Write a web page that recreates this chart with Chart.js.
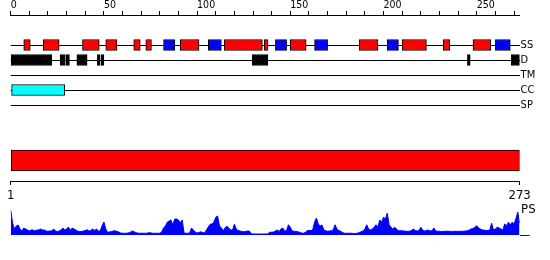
<!DOCTYPE html>
<html lang="en">
<head>
<meta charset="UTF-8">
<title>Protein feature map</title>
<script src="https://cdn.jsdelivr.net/npm/chart.js"></script>
<style>
  body { margin: 0; background: #fff; }
  #wrap { position: relative; width: 550px; height: 260px; }
  canvas { position: absolute; left: 0; }
</style>
</head>
<body>
<div id="wrap">
  <canvas id="tracks" width="550" height="120" style="top:0px"></canvas>
  <canvas id="domain" width="550" height="65" style="top:140px"></canvas>
  <canvas id="ps" width="550" height="40" style="top:200px"></canvas>
</div>
<script>
// Data
const seqLength = 273;
const trackNames = ['SS', 'D', 'TM', 'CC', 'SP'];
const rulerTicks = [0, 10, 20, 30, 40, 50, 60, 70, 80, 90, 100, 110, 120, 130,
                    140, 150, 160, 170, 180, 190, 200, 210, 220, 230, 240, 250, 260, 270];
const rulerLabels = [0, 50, 100, 150, 200, 250];
const lengthTicks = [0, 273];
const lengthLabels = ['1', '273'];

// [start, end] in residues
const helices = [[7, 10.5], [17.5, 26], [38.5, 47.5], [51, 57], [66, 69.5], [72.5, 75.5],
                 [91, 101], [114.5, 135], [136, 138], [150, 158.5], [187, 197], [210, 223],
                 [232, 235.5], [248, 257.5]];
const strands = [[82, 88], [106, 113], [142, 148], [163, 170], [202, 208], [260, 268]];
const disorder = [[0, 22], [26.5, 29], [29.5, 31.5], [35.5, 41], [46.5, 48], [48.5, 50],
                  [129.5, 138], [245, 246.5], [268.5, 273]];
const coiledCoil = [[0.5, 29]];
const transmembrane = [];
const signalPeptide = [];
const domains = [[0, 273]];

// PS score, one value per residue 0..273
const psValues = [
  1.00, 0.48, 0.24, 0.36, 0.40, 0.24, 0.16, 0.28, 0.24, 0.20,
  0.16, 0.20, 0.20, 0.16, 0.20, 0.20, 0.24, 0.20, 0.20, 0.16,
  0.15, 0.16, 0.16, 0.24, 0.16, 0.14, 0.16, 0.20, 0.28, 0.20,
  0.24, 0.32, 0.18, 0.28, 0.24, 0.20, 0.15, 0.14, 0.14, 0.16,
  0.18, 0.21, 0.16, 0.18, 0.24, 0.18, 0.24, 0.16, 0.16, 0.36,
  0.52, 0.24, 0.11, 0.12, 0.14, 0.16, 0.17, 0.14, 0.12, 0.08,
  0.07, 0.07, 0.07, 0.08, 0.10, 0.16, 0.14, 0.10, 0.08, 0.07,
  0.07, 0.07, 0.07, 0.07, 0.09, 0.09, 0.07, 0.07, 0.07, 0.07,
  0.07, 0.12, 0.28, 0.36, 0.51, 0.56, 0.60, 0.40, 0.64, 0.64,
  0.60, 0.48, 0.60, 0.08, 0.07, 0.07, 0.08, 0.28, 0.20, 0.12,
  0.08, 0.10, 0.13, 0.10, 0.08, 0.20, 0.32, 0.43, 0.44, 0.51,
  0.71, 0.76, 0.36, 0.29, 0.16, 0.29, 0.35, 0.28, 0.20, 0.20,
  0.43, 0.24, 0.18, 0.16, 0.14, 0.13, 0.14, 0.16, 0.16, 0.05,
  0.04, 0.04, 0.04, 0.04, 0.04, 0.04, 0.04, 0.04, 0.05, 0.11,
  0.11, 0.12, 0.16, 0.20, 0.14, 0.24, 0.28, 0.15, 0.18, 0.41,
  0.31, 0.16, 0.15, 0.14, 0.13, 0.11, 0.08, 0.07, 0.10, 0.17,
  0.18, 0.18, 0.20, 0.51, 0.68, 0.44, 0.36, 0.40, 0.20, 0.17,
  0.15, 0.16, 0.17, 0.20, 0.41, 0.24, 0.18, 0.15, 0.10, 0.07,
  0.07, 0.07, 0.07, 0.07, 0.06, 0.06, 0.07, 0.10, 0.13, 0.16,
  0.24, 0.41, 0.24, 0.20, 0.24, 0.31, 0.41, 0.33, 0.60, 0.51,
  0.71, 0.64, 0.87, 0.41, 0.31, 0.24, 0.31, 0.24, 0.17, 0.17,
  0.17, 0.16, 0.15, 0.15, 0.15, 0.18, 0.24, 0.18, 0.16, 0.18,
  0.31, 0.20, 0.16, 0.18, 0.20, 0.16, 0.17, 0.28, 0.16, 0.15,
  0.15, 0.14, 0.14, 0.15, 0.15, 0.15, 0.14, 0.14, 0.15, 0.15,
  0.14, 0.15, 0.15, 0.15, 0.16, 0.17, 0.20, 0.24, 0.26, 0.31,
  0.37, 0.28, 0.24, 0.20, 0.20, 0.17, 0.18, 0.20, 0.47, 0.20,
  0.24, 0.31, 0.28, 0.24, 0.20, 0.44, 0.37, 0.51, 0.41, 0.51,
  0.44, 0.64, 0.92, 0.48
];
const psTicks = [0, 1];
const psLabel = 'PS';

const FONT = "'DejaVu Sans Condensed', 'DejaVu Sans', sans-serif";
const PAD_LEFT = 10.7;
const RIGHT_W = 30.4;

Chart.defaults.animation = false;
Chart.defaults.responsive = false;
Chart.defaults.plugins.legend.display = false;
Chart.defaults.plugins.tooltip.enabled = false;
Chart.defaults.color = '#000';

function onTrack(segs, name) {
    const y = trackNames.indexOf(name);
    return segs.map(s => ({x: s, y: y}));
}

function featureSet(segs, name, color) {
    return {
        data: onTrack(segs, name),
        backgroundColor: color,
        borderColor: '#000',
        borderWidth: 1,
        borderSkipped: false,
        barThickness: 11,
        grouped: false
    };
}

// Feature tracks with the residue ruler on top
new Chart(document.getElementById('tracks'), {
    type: 'bar',
    data: {
        datasets: [
            featureSet(helices, 'SS', '#ff0000'),
            featureSet(strands, 'SS', '#0000ff'),
            featureSet(disorder, 'D', '#000000'),
            featureSet(transmembrane, 'TM', '#ffff00'),
            featureSet(coiledCoil, 'CC', '#00ffff'),
            featureSet(signalPeptide, 'SP', '#00ff00')
        ]
    },
    options: {
        indexAxis: 'y',
        layout: {padding: {left: PAD_LEFT, right: 0, top: 0, bottom: 0}},
        scales: {
            x: {
                type: 'linear',
                position: 'top',
                min: 0,
                max: seqLength,
                afterBuildTicks: s => { s.ticks = rulerTicks.map(v => ({value: v})); },
                afterFit: s => { s.height = 15; s.paddingLeft = 0; s.paddingRight = 0; },
                grid: {drawOnChartArea: false, tickLength: 4, color: '#000'},
                border: {color: '#000'},
                ticks: {
                    autoSkip: false,
                    maxRotation: 0,
                    align: 'start',
                    padding: -1,
                    font: {family: FONT, size: 10.5},
                    callback: v => rulerLabels.includes(v) ? String(v) : ''
                }
            },
            y: {
                type: 'linear',
                position: 'right',
                reverse: true,
                min: -2,
                max: 5,
                offset: false,
                afterBuildTicks: s => { s.ticks = trackNames.map((n, i) => ({value: i})); },
                afterFit: s => { s.width = RIGHT_W; s.paddingTop = 0; s.paddingBottom = 0; },
                grid: {offset: false, drawTicks: false, color: '#000'},
                border: {display: false},
                ticks: {
                    padding: 1,
                    font: {family: FONT, size: 11},
                    callback: v => trackNames[v]
                }
            }
        }
    }
});

// Full-length domain bar with the 1..273 axis
new Chart(document.getElementById('domain'), {
    type: 'bar',
    data: {
        labels: ['domain'],
        datasets: [{
            data: domains,
            backgroundColor: '#ff0000',
            borderColor: '#000',
            borderWidth: 1,
            borderSkipped: false,
            barThickness: 21
        }]
    },
    options: {
        indexAxis: 'y',
        layout: {padding: {left: PAD_LEFT, right: RIGHT_W, top: 0, bottom: 0}},
        scales: {
            x: {
                type: 'linear',
                position: 'bottom',
                min: 0,
                max: seqLength,
                afterBuildTicks: s => { s.ticks = lengthTicks.map(v => ({value: v})); },
                afterFit: s => { s.height = 24; },
                grid: {drawOnChartArea: false, tickLength: 4, color: '#000'},
                border: {color: '#000'},
                ticks: {
                    autoSkip: false,
                    maxRotation: 0,
                    padding: 3,
                    font: {family: FONT, size: 13},
                    callback: (v, i) => lengthLabels[i]
                }
            },
            y: {display: false}
        }
    }
});

// PS profile
new Chart(document.getElementById('ps'), {
    type: 'line',
    data: {
        datasets: [{
            data: psValues.map((v, i) => ({x: i, y: v})),
            borderColor: '#0000ff',
            backgroundColor: '#0000ff',
            borderWidth: 1,
            pointRadius: 0,
            tension: 0,
            fill: 'origin'
        }]
    },
    options: {
        layout: {padding: {left: PAD_LEFT, right: 0, top: 10, bottom: 5}},
        scales: {
            x: {type: 'linear', min: 0, max: seqLength, display: false},
            y: {
                type: 'linear',
                position: 'right',
                min: 0,
                max: 1,
                afterBuildTicks: s => { s.ticks = psTicks.map(v => ({value: v})); },
                afterFit: s => { s.width = RIGHT_W; },
                grid: {
                    drawOnChartArea: false,
                    tickLength: 10,
                    color: ctx => ctx.tick && ctx.tick.value === 0 ? '#0000ff' : 'rgba(0,0,0,0)'
                },
                border: {display: false},
                ticks: {
                    padding: -8.5,
                    font: {family: FONT, size: 13},
                    callback: v => v === 1 ? psLabel : ''
                }
            }
        }
    }
});
</script>
</body>
</html>
